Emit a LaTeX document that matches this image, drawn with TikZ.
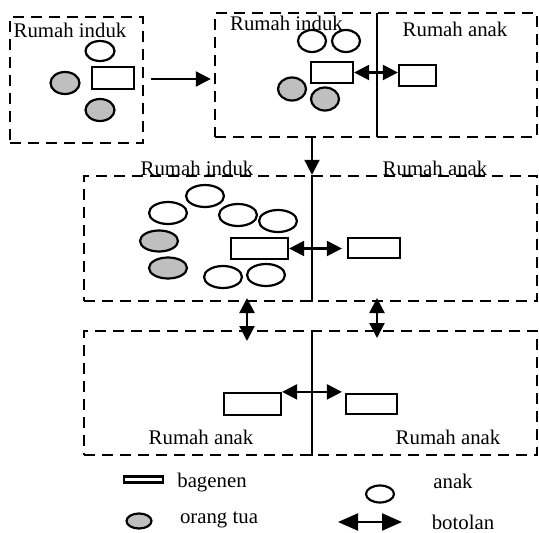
\documentclass[tikz,border=0pt]{standalone}
\usepackage{fontspec}
\setmainfont{Liberation Serif}
\usetikzlibrary{shapes.geometric,arrows.meta,calc}
\begin{document}
\begin{tikzpicture}[x=1pt,y=-1pt,
  box/.style={draw, dash pattern=on 11pt off 7pt, line width=2.4pt, inner sep=0pt},
  lbl/.style={font=\fontsize{20.8}{24}\selectfont, inner sep=0pt},
  wo/.style={ellipse, draw, line width=2.2pt, fill=white, inner sep=0pt},
  go/.style={wo, fill=gray!50},
  bag/.style={draw, line width=2.2pt, fill=white, inner sep=0pt},
  solidline/.style={line width=2.2pt},
  arr/.style={line width=2.2pt, -{Triangle[length=15pt,width=15pt]}},
  dbl/.style={line width=2.2pt, {Triangle[length=15pt,width=15pt]}-{Triangle[length=15pt,width=15pt]}},
  ldbl/.style={line width=2.2pt, {Triangle[length=20pt,width=17pt]}-{Triangle[length=20pt,width=17pt]}}
]
\useasboundingbox (0,0) rectangle (539,533);

% boxes
\node[box, minimum width=133pt, minimum height=126pt] (b1) at (76.5,80) {};
\node[box, minimum width=322pt, minimum height=124pt] (b2) at (376,75) {};
\node[box, minimum width=453pt, minimum height=125pt] (b3) at (310.5,238.5) {};
\node[box, minimum width=453pt, minimum height=124pt] (b4) at (310.5,393) {};

% dividers
\coordinate (d2t) at (377,13);
\coordinate (d2b) at (377,137);
\draw[solidline] (d2t) -- (d2b);
\coordinate (a23) at (312,137);
\draw[arr] (a23) -- (a23 |- b3.north);
\draw[solidline] (a23 |- b3.north) -- (a23 |- b3.south);
\draw[solidline] (a23 |- b4.north) -- (a23 |- b4.south);

% labels
\node[lbl] (t1) at (70,30) {Rumah induk};
\node[lbl] (t2a) at (286.5,23) {Rumah induk};
\node[lbl] (t2b) at (455,29) {Rumah anak};
\node[lbl] (t3a) at (197,168) {Rumah induk};
\node[lbl] (t3b) at (435,168) {Rumah anak};
\node[lbl] (t4a) at (201,437) {Rumah anak};
\node[lbl] (t4b) at (448,437) {Rumah anak};

% box 1 content
\node[wo, minimum width=29pt, minimum height=20pt] (w11) at (100,51) {};
\node[go, minimum width=29pt, minimum height=22pt] (g11) at (65,83) {};
\node[go, minimum width=29pt, minimum height=22pt] (g12) at (100,110) {};
\node[bag, minimum width=42pt, minimum height=22pt] (r1) at (113,78) {};

% box 2 content
\node[wo, minimum width=28pt, minimum height=22pt] (w21) at (312,41) {};
\node[wo, minimum width=28pt, minimum height=22pt] (w22) at (346,41) {};
\node[bag, minimum width=42pt, minimum height=21pt] (r2a) at (332,72.5) {};
\node[go, minimum width=28pt, minimum height=23pt] (g21) at (292,89) {};
\node[go, minimum width=28pt, minimum height=23pt] (g22) at (325,99) {};
\node[bag, minimum width=37pt, minimum height=21pt] (r2b) at (417.5,75.5) {};

% box 3 content
\node[wo, minimum width=38pt, minimum height=22pt] (w31) at (205,196) {};
\node[wo, minimum width=38pt, minimum height=22pt] (w32) at (168,213) {};
\node[wo, minimum width=38pt, minimum height=22pt] (w33) at (238,215) {};
\node[wo, minimum width=38pt, minimum height=22pt] (w34) at (278,221) {};
\node[go, minimum width=38pt, minimum height=21pt] (g31) at (159,241) {};
\node[go, minimum width=38pt, minimum height=21pt] (g32) at (168,268) {};
\node[wo, minimum width=38pt, minimum height=22pt] (w35) at (223,277) {};
\node[wo, minimum width=38pt, minimum height=22pt] (w36) at (266,275) {};
\node[bag, minimum width=57pt, minimum height=21pt] (r3a) at (259.5,248.5) {};
\node[bag, minimum width=52pt, minimum height=20pt] (r3b) at (374,248) {};

% box 4 content
\node[bag, minimum width=57pt, minimum height=22pt] (r4a) at (252.5,404) {};
\node[bag, minimum width=51pt, minimum height=20pt] (r4b) at (371.5,404) {};

% connectors
\coordinate (a12s) at (151,79);
\draw[arr, shorten >=3pt] (a12s) -- (a12s -| b2.west);
\draw[dbl] (r2a.east) -- (r2a.east -| r2b.west);
\draw[dbl, shorten >=5pt] (r3a.east) -- (r3a.east -| r3b.west);
\draw[dbl, shorten >=3pt] (r4a.north east) -- (r4a.north east -| r4b.west);
\coordinate (v1a) at (247,298);
\coordinate (v1b) at (247,341);
\coordinate (v2a) at (377,298);
\coordinate (v2b) at (377,338);
\draw[dbl] (v1a) -- (v1b);
\draw[dbl] (v2a) -- (v2b);

% legend
\node[bag, minimum width=39pt, minimum height=6pt] (lr) at (143.5,479.5) {};
\node[lbl] (lrt) at (212,483) {bagenen};
\node[go, minimum width=25pt, minimum height=15pt] (lg) at (139,521) {};
\node[lbl] (lgt) at (219,520) {orang tua};
\node[wo, minimum width=28pt, minimum height=17pt] (lw) at (380,494) {};
\node[lbl] (lwt) at (453,481) {anak};
\coordinate (la) at (338,522);
\coordinate (lb) at (402,522);
\draw[ldbl] (la) -- (lb);
\node[lbl] (lbt) at (463,522) {botolan};
\end{tikzpicture}
\end{document}
